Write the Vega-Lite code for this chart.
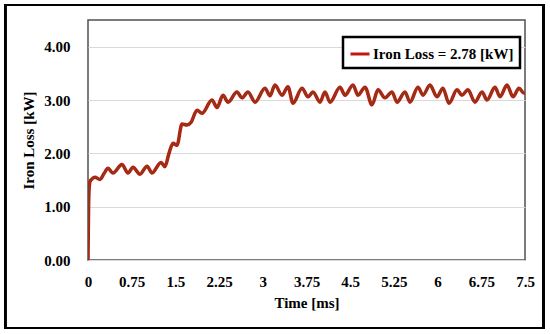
{
  "$schema": "https://vega.github.io/schema/vega-lite/v6.json",
  "width": 437,
  "height": 240,
  "autosize": "none",
  "padding": {"left": 88, "top": 20, "right": 25, "bottom": 74},
  "background": "white",
  "config": {
    "view": {"stroke": "#505050", "strokeWidth": 1.5},
    "font": "Liberation Serif",
    "legend": {"strokeColor": "black", "strokeWidth": 2.5, "fillColor": "white"}
  },
  "data": {
    "values": [
      {"t": 0, "v": 0, "s": "Iron Loss = 2.78 [kW]"},
      {"t": 0.005, "v": 0.5, "s": "Iron Loss = 2.78 [kW]"},
      {"t": 0.01, "v": 1.0, "s": "Iron Loss = 2.78 [kW]"},
      {"t": 0.02, "v": 1.35, "s": "Iron Loss = 2.78 [kW]"},
      {"t": 0.034, "v": 1.47, "s": "Iron Loss = 2.78 [kW]"},
      {"t": 0.069, "v": 1.52, "s": "Iron Loss = 2.78 [kW]"},
      {"t": 0.12, "v": 1.55, "s": "Iron Loss = 2.78 [kW]"},
      {"t": 0.206, "v": 1.51, "s": "Iron Loss = 2.78 [kW]"},
      {"t": 0.275, "v": 1.62, "s": "Iron Loss = 2.78 [kW]"},
      {"t": 0.343, "v": 1.72, "s": "Iron Loss = 2.78 [kW]"},
      {"t": 0.429, "v": 1.63, "s": "Iron Loss = 2.78 [kW]"},
      {"t": 0.583, "v": 1.79, "s": "Iron Loss = 2.78 [kW]"},
      {"t": 0.686, "v": 1.63, "s": "Iron Loss = 2.78 [kW]"},
      {"t": 0.772, "v": 1.74, "s": "Iron Loss = 2.78 [kW]"},
      {"t": 0.892, "v": 1.61, "s": "Iron Loss = 2.78 [kW]"},
      {"t": 1.013, "v": 1.76, "s": "Iron Loss = 2.78 [kW]"},
      {"t": 1.098, "v": 1.63, "s": "Iron Loss = 2.78 [kW]"},
      {"t": 1.253, "v": 1.83, "s": "Iron Loss = 2.78 [kW]"},
      {"t": 1.321, "v": 1.75, "s": "Iron Loss = 2.78 [kW]"},
      {"t": 1.39, "v": 2.0, "s": "Iron Loss = 2.78 [kW]"},
      {"t": 1.459, "v": 2.19, "s": "Iron Loss = 2.78 [kW]"},
      {"t": 1.527, "v": 2.15, "s": "Iron Loss = 2.78 [kW]"},
      {"t": 1.613, "v": 2.55, "s": "Iron Loss = 2.78 [kW]"},
      {"t": 1.699, "v": 2.53, "s": "Iron Loss = 2.78 [kW]"},
      {"t": 1.768, "v": 2.58, "s": "Iron Loss = 2.78 [kW]"},
      {"t": 1.871, "v": 2.81, "s": "Iron Loss = 2.78 [kW]"},
      {"t": 1.956, "v": 2.75, "s": "Iron Loss = 2.78 [kW]"},
      {"t": 2.128, "v": 3.0, "s": "Iron Loss = 2.78 [kW]"},
      {"t": 2.214, "v": 2.86, "s": "Iron Loss = 2.78 [kW]"},
      {"t": 2.317, "v": 3.09, "s": "Iron Loss = 2.78 [kW]"},
      {"t": 2.403, "v": 2.96, "s": "Iron Loss = 2.78 [kW]"},
      {"t": 2.557, "v": 3.15, "s": "Iron Loss = 2.78 [kW]"},
      {"t": 2.643, "v": 3.04, "s": "Iron Loss = 2.78 [kW]"},
      {"t": 2.746, "v": 3.15, "s": "Iron Loss = 2.78 [kW]"},
      {"t": 2.866, "v": 2.96, "s": "Iron Loss = 2.78 [kW]"},
      {"t": 3.038, "v": 3.22, "s": "Iron Loss = 2.78 [kW]"},
      {"t": 3.123, "v": 3.08, "s": "Iron Loss = 2.78 [kW]"},
      {"t": 3.209, "v": 3.28, "s": "Iron Loss = 2.78 [kW]"},
      {"t": 3.329, "v": 3.09, "s": "Iron Loss = 2.78 [kW]"},
      {"t": 3.432, "v": 3.25, "s": "Iron Loss = 2.78 [kW]"},
      {"t": 3.518, "v": 2.94, "s": "Iron Loss = 2.78 [kW]"},
      {"t": 3.673, "v": 3.22, "s": "Iron Loss = 2.78 [kW]"},
      {"t": 3.776, "v": 3.06, "s": "Iron Loss = 2.78 [kW]"},
      {"t": 3.861, "v": 3.15, "s": "Iron Loss = 2.78 [kW]"},
      {"t": 3.982, "v": 2.96, "s": "Iron Loss = 2.78 [kW]"},
      {"t": 4.067, "v": 3.15, "s": "Iron Loss = 2.78 [kW]"},
      {"t": 4.153, "v": 2.96, "s": "Iron Loss = 2.78 [kW]"},
      {"t": 4.325, "v": 3.24, "s": "Iron Loss = 2.78 [kW]"},
      {"t": 4.411, "v": 3.09, "s": "Iron Loss = 2.78 [kW]"},
      {"t": 4.548, "v": 3.28, "s": "Iron Loss = 2.78 [kW]"},
      {"t": 4.634, "v": 3.09, "s": "Iron Loss = 2.78 [kW]"},
      {"t": 4.754, "v": 3.24, "s": "Iron Loss = 2.78 [kW]"},
      {"t": 4.874, "v": 2.91, "s": "Iron Loss = 2.78 [kW]"},
      {"t": 4.977, "v": 3.19, "s": "Iron Loss = 2.78 [kW]"},
      {"t": 5.097, "v": 3.04, "s": "Iron Loss = 2.78 [kW]"},
      {"t": 5.217, "v": 3.15, "s": "Iron Loss = 2.78 [kW]"},
      {"t": 5.303, "v": 2.96, "s": "Iron Loss = 2.78 [kW]"},
      {"t": 5.44, "v": 3.15, "s": "Iron Loss = 2.78 [kW]"},
      {"t": 5.526, "v": 2.96, "s": "Iron Loss = 2.78 [kW]"},
      {"t": 5.663, "v": 3.24, "s": "Iron Loss = 2.78 [kW]"},
      {"t": 5.749, "v": 3.09, "s": "Iron Loss = 2.78 [kW]"},
      {"t": 5.869, "v": 3.28, "s": "Iron Loss = 2.78 [kW]"},
      {"t": 5.989, "v": 3.06, "s": "Iron Loss = 2.78 [kW]"},
      {"t": 6.092, "v": 3.22, "s": "Iron Loss = 2.78 [kW]"},
      {"t": 6.195, "v": 2.94, "s": "Iron Loss = 2.78 [kW]"},
      {"t": 6.333, "v": 3.19, "s": "Iron Loss = 2.78 [kW]"},
      {"t": 6.418, "v": 3.09, "s": "Iron Loss = 2.78 [kW]"},
      {"t": 6.521, "v": 3.19, "s": "Iron Loss = 2.78 [kW]"},
      {"t": 6.641, "v": 2.96, "s": "Iron Loss = 2.78 [kW]"},
      {"t": 6.762, "v": 3.15, "s": "Iron Loss = 2.78 [kW]"},
      {"t": 6.848, "v": 3.0, "s": "Iron Loss = 2.78 [kW]"},
      {"t": 6.985, "v": 3.24, "s": "Iron Loss = 2.78 [kW]"},
      {"t": 7.071, "v": 3.06, "s": "Iron Loss = 2.78 [kW]"},
      {"t": 7.191, "v": 3.28, "s": "Iron Loss = 2.78 [kW]"},
      {"t": 7.294, "v": 3.06, "s": "Iron Loss = 2.78 [kW]"},
      {"t": 7.397, "v": 3.22, "s": "Iron Loss = 2.78 [kW]"},
      {"t": 7.483, "v": 3.13, "s": "Iron Loss = 2.78 [kW]"},
      {"t": 7.5, "v": 3.15, "s": "Iron Loss = 2.78 [kW]"}
    ]
  },
  "layer": [
    {
      "mark": {"type": "line", "interpolate": "monotone", "strokeWidth": 3.5, "clip": true},
      "encoding": {
        "x": {
          "field": "t", "type": "quantitative",
          "scale": {"domain": [0, 7.5], "nice": false, "zero": false},
          "axis": {
            "title": "Time [ms]",
            "values": [0, 0.75, 1.5, 2.25, 3, 3.75, 4.5, 5.25, 6, 6.75, 7.5],
            "format": ".3~g",
            "grid": false, "ticks": false, "domain": false,
            "labelFont": "Liberation Serif", "labelFontSize": 15, "labelFontWeight": "bold",
            "labelColor": "black", "labelPadding": 14, "labelFlush": false,
            "titleFont": "Liberation Serif", "titleFontSize": 15, "titleFontWeight": "bold",
            "titleColor": "black", "titlePadding": 6
          }
        },
        "y": {
          "field": "v", "type": "quantitative",
          "scale": {"domain": [0, 4.5], "nice": false},
          "axis": {
            "title": "Iron Loss [kW]",
            "values": [0, 1, 2, 3, 4],
            "format": ".2f",
            "grid": true, "gridColor": "#D9D9D9", "gridWidth": 1,
            "ticks": false, "domain": false,
            "labelFont": "Liberation Serif", "labelFontSize": 15, "labelFontWeight": "bold",
            "labelColor": "black", "labelPadding": 18,
            "titleFont": "Liberation Serif", "titleFontSize": 15, "titleFontWeight": "bold",
            "titleColor": "black", "titlePadding": 7
          }
        },
        "color": {
          "field": "s", "type": "nominal",
          "scale": {"range": ["#C8140E"]},
          "legend": {
            "title": null,
            "orient": "none",
            "legendX": 255,
            "legendY": 17,
            "direction": "vertical",
            "padding": 6,
            "symbolType": "stroke",
            "symbolSize": 360,
            "symbolStrokeWidth": 3,
            "labelFont": "Liberation Serif",
            "labelFontSize": 15,
            "labelFontWeight": "bold",
            "labelColor": "black",
            "labelOffset": 2,
            "labelLimit": 300
          }
        }
      }
    },
    {
      "mark": {"type": "line", "interpolate": "monotone", "strokeWidth": 1.3, "color": "#6E4A1C", "clip": true},
      "encoding": {
        "x": {"field": "t", "type": "quantitative"},
        "y": {"field": "v", "type": "quantitative"}
      }
    },
    {
      "mark": {"type": "rect", "fill": null, "stroke": "black", "strokeWidth": 2, "clip": false},
      "encoding": {
        "x": {"datum": -1.424},
        "x2": {"datum": 7.81},
        "y": {"datum": 4.78},
        "y2": {"datum": -1.275}
      }
    }
  ]
}
